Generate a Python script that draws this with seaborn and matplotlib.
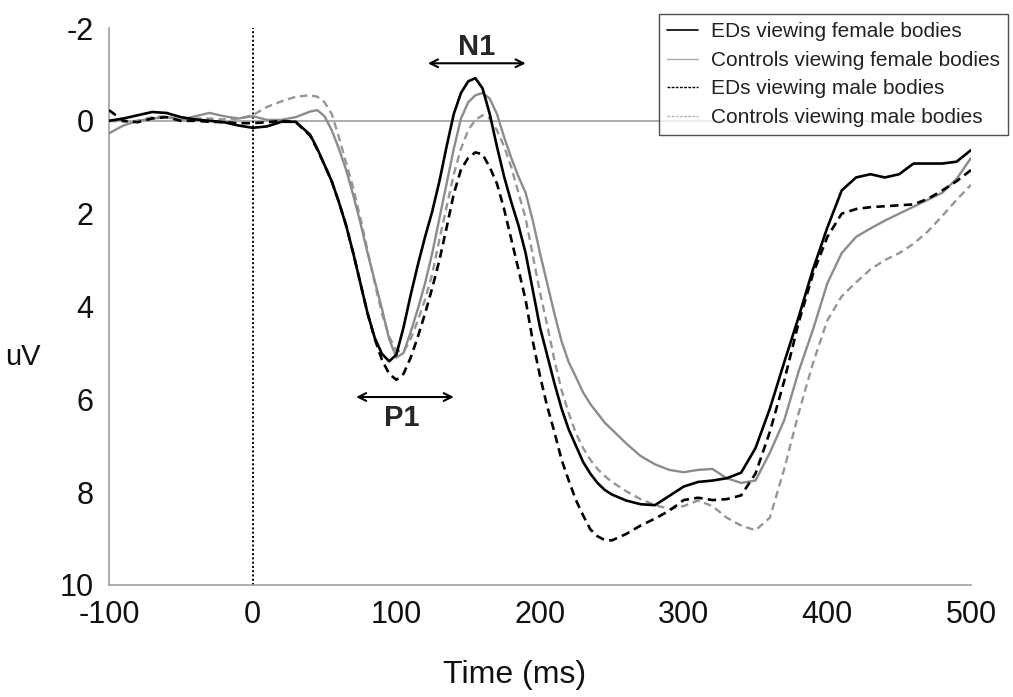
import numpy as np
import pandas as pd
import matplotlib
matplotlib.use("Agg")
import matplotlib.pyplot as plt
from matplotlib.lines import Line2D
import seaborn as sns

# Sample times (ms): 10 ms steps outside the P1/N1 window, 5 ms steps inside it
time_ms = (list(range(-100, 45, 10)) + list(range(45, 255, 5)) + list(range(260, 510, 10)))

# Grand-average amplitudes (uV) for each group / stimulus condition
eds_female = [
    0.00, -0.05, -0.12, -0.19, -0.17, -0.08, -0.03, 0.00, 0.03, 0.10, 0.15, 0.12, 0.02, 0.02, 0.30,
    0.60, 0.95, 1.30, 1.75, 2.25, 2.85, 3.50, 4.15, 4.68, 5.02, 5.18, 5.04, 4.45, 3.75, 3.10,
    2.50, 1.95, 1.30, 0.55, -0.15, -0.60, -0.85, -0.92, -0.70, -0.15, 0.55, 1.20, 1.75, 2.25,
    2.85, 3.65, 4.45, 5.05, 5.65, 6.20, 6.65, 7.00, 7.35, 7.60, 7.80, 7.95, 8.05,
    8.18, 8.26, 8.28, 8.08, 7.88, 7.78, 7.75, 7.70, 7.58, 7.05, 6.20, 5.20, 4.23, 3.20, 2.30,
    1.50, 1.22, 1.15, 1.22, 1.15, 0.92, 0.92, 0.92, 0.88, 0.63,
]
controls_female = [
    0.27, 0.10, 0.00, -0.05, -0.08, -0.02, -0.10, -0.17, -0.10, -0.05, -0.10, -0.02, -0.02, -0.08, -0.20,
    -0.23, -0.10, 0.20, 0.60, 1.05, 1.60, 2.20, 2.85, 3.45, 4.05, 4.70, 5.10, 5.00, 4.55, 4.05,
    3.50, 2.85, 2.10, 1.35, 0.60, -0.05, -0.40, -0.55, -0.60, -0.48, -0.15, 0.35, 0.80, 1.20,
    1.55, 2.15, 2.85, 3.50, 4.15, 4.75, 5.20, 5.52, 5.85, 6.10, 6.30, 6.50, 6.65,
    6.95, 7.22, 7.40, 7.52, 7.57, 7.52, 7.50, 7.70, 7.80, 7.75, 7.15, 6.45, 5.40, 4.50, 3.50,
    2.85, 2.50, 2.32, 2.15, 2.00, 1.85, 1.70, 1.55, 1.25, 0.80,
]
eds_male = [
    -0.23, 0.00, 0.03, -0.05, -0.08, 0.00, 0.00, 0.02, 0.03, 0.05, 0.05, 0.03, 0.00, 0.03, 0.32,
    0.62, 0.95, 1.30, 1.75, 2.25, 2.85, 3.50, 4.15, 4.70, 5.15, 5.45, 5.58, 5.45, 5.10, 4.65,
    4.15, 3.60, 3.00, 2.30, 1.57, 1.05, 0.80, 0.68, 0.72, 1.00, 1.35, 1.90, 2.55, 3.20,
    3.86, 4.75, 5.50, 6.15, 6.70, 7.30, 7.75, 8.17, 8.50, 8.80, 8.95, 9.03, 9.04,
    8.90, 8.72, 8.57, 8.40, 8.17, 8.12, 8.17, 8.15, 8.07, 7.60, 6.70, 5.60, 4.35, 3.30, 2.50,
    2.00, 1.90, 1.86, 1.84, 1.82, 1.80, 1.68, 1.50, 1.30, 1.06,
]
controls_male = [
    0.00, 0.02, 0.00, -0.08, -0.10, -0.02, -0.05, -0.05, -0.03, -0.05, -0.12, -0.30, -0.42, -0.52, -0.55,
    -0.52, -0.40, -0.15, 0.35, 0.90, 1.45, 2.10, 2.80, 3.50, 4.15, 4.65, 4.95, 4.98, 4.70, 4.30,
    3.85, 3.30, 2.55, 1.85, 1.15, 0.60, 0.20, -0.02, -0.12, -0.05, 0.20, 0.55, 1.00, 1.55,
    2.10, 2.90, 3.70, 4.40, 5.15, 5.80, 6.30, 6.73, 7.05, 7.30, 7.50, 7.65, 7.78,
    7.98, 8.15, 8.28, 8.36, 8.30, 8.18, 8.30, 8.55, 8.72, 8.82, 8.55, 7.50, 6.30, 5.22, 4.30,
    3.78, 3.48, 3.20, 3.00, 2.85, 2.65, 2.38, 2.05, 1.70, 1.38,
]

series_labels = [
    "EDs viewing female bodies",
    "Controls viewing female bodies",
    "EDs viewing male bodies",
    "Controls viewing male bodies",
]
series_values = [eds_female, controls_female, eds_male, controls_male]

# Component windows (ms) marked with double arrows
p1_window = (72, 140)
n1_window = (122, 190)

sns.set_style("white")
plt.rcParams["font.family"] = ["Liberation Sans", "DejaVu Sans"]
plt.rcParams["axes.unicode_minus"] = False

df = pd.concat(
    [pd.DataFrame({"Time (ms)": time_ms, "uV": vals, "condition": lab})
     for lab, vals in zip(series_labels, series_values)],
    ignore_index=True,
)

styles = {
    "EDs viewing female bodies": dict(color="#000000", lw=1.9, ls="-"),
    "Controls viewing female bodies": dict(color="#8c8c8c", lw=1.7, ls="-"),
    "EDs viewing male bodies": dict(color="#000000", lw=1.9, ls=(0, (3.2, 2.0))),
    "Controls viewing male bodies": dict(color="#969696", lw=1.7, ls=(0, (3.2, 2.0))),
}

fig = plt.figure(figsize=(10.13, 6.97), dpi=100)
ax = fig.add_axes([109 / 1013, 1 - 585 / 697, 862 / 1013, 557 / 697])

# zero line and stimulus onset
ax.axhline(0, color="#a0a0a0", lw=1.2, zorder=1)
ax.axvline(0, color="#000000", lw=1.4, ls=(0, (1, 1.2)), zorder=1)

draw_order = ["Controls viewing male bodies", "Controls viewing female bodies",
              "EDs viewing male bodies", "EDs viewing female bodies"]
for lab in draw_order:
    st = styles[lab]
    sns.lineplot(data=df[df["condition"] == lab], x="Time (ms)", y="uV", ax=ax,
                 color=st["color"], linewidth=st["lw"], linestyle=st["ls"],
                 legend=False, zorder=3)

ax.set_xlim(-100, 500)
ax.set_ylim(10, -2)
ax.set_xticks([-100, 0, 100, 200, 300, 400, 500])
ax.set_yticks([-2, 0, 2, 4, 6, 8, 10])
ax.tick_params(axis="both", labelsize=22, length=7, width=1.2, color="#a0a0a0",
               direction="out", pad=4, labelcolor="#111111")
ax.tick_params(axis="x", pad=4)
for side in ("top", "right"):
    ax.spines[side].set_visible(False)
for side in ("left", "bottom"):
    ax.spines[side].set_color("#a0a0a0")
    ax.spines[side].set_linewidth(1.2)

ax.set_xlabel("Time (ms)", fontsize=23, color="#111111")
ax.set_ylabel("uV", fontsize=21, color="#111111", rotation=0, va="center", ha="center")
ax.yaxis.set_label_coords(-0.1, 0.41)
ax.xaxis.set_label_coords(0.47, -0.135)

# P1 / N1 annotations
arrow_kw = dict(arrowstyle="<->", color="black", lw=1.5, shrinkA=0, shrinkB=0,
                mutation_scale=14)
ax.annotate("", xy=(p1_window[0], 5.95), xytext=(p1_window[1], 5.95), arrowprops=arrow_kw)
ax.text(sum(p1_window) / 2 - 2, 6.4, "P1", ha="center", va="center",
        fontsize=21, fontweight="bold")
ax.annotate("", xy=(n1_window[0], -1.24), xytext=(n1_window[1], -1.24), arrowprops=arrow_kw)
ax.text(sum(n1_window) / 2, -1.6, "N1", ha="center", va="center",
        fontsize=21, fontweight="bold")

handles = [
    Line2D([], [], color="#000000", lw=1.2, ls="-"),
    Line2D([], [], color="#a8a8a8", lw=1.0, ls="-"),
    Line2D([], [], color="#000000", lw=1.0, ls=(0, (2, 1))),
    Line2D([], [], color="#b4b4b4", lw=1.0, ls=(0, (2, 1))),
]
leg = fig.legend(handles, series_labels, loc="upper right",
                 bbox_to_anchor=(1008 / 1013, 1 - 14 / 697), borderaxespad=0,
                 fontsize=15, frameon=True, fancybox=False, edgecolor="#222222",
                 handlelength=1.5, handletextpad=0.6, labelspacing=0.46,
                 borderpad=0.4)
leg.get_frame().set_linewidth(1.0)
for t in leg.get_texts():
    t.set_color("#222222")

fig.savefig("out.png", dpi=100, facecolor="white")
